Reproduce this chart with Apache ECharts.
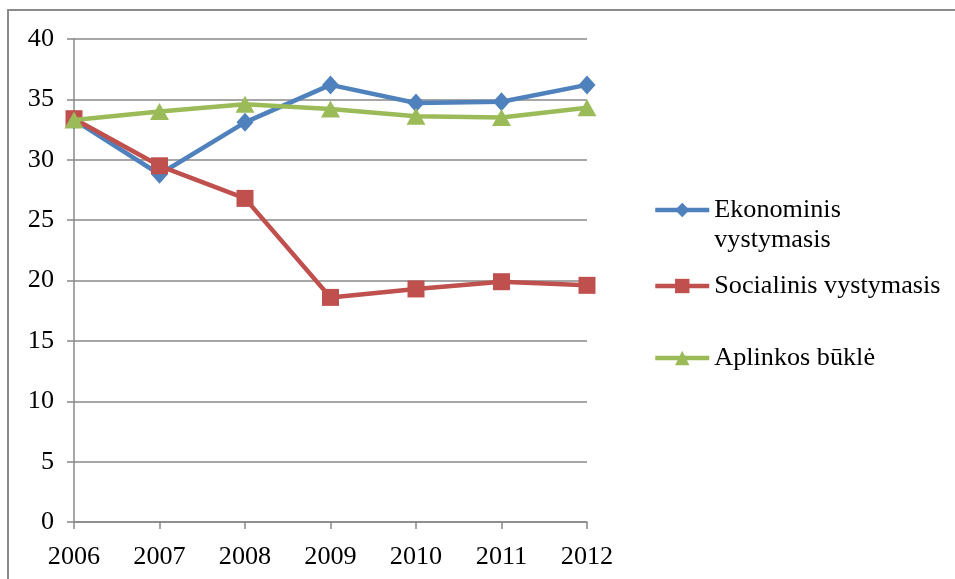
<!DOCTYPE html>
<html>
<head>
<meta charset="utf-8">
<script src="https://cdn.jsdelivr.net/npm/echarts@6/dist/echarts.min.js"></script>
<style>
html,body{margin:0;padding:0;background:#fff;}
#chart{width:955px;height:579px;}
</style>
</head>
<body>
<div id="chart"></div>
<script>
var years = ['2006', '2007', '2008', '2009', '2010', '2011', '2012'];
var ekonominis = [33.3, 28.8, 33.1, 36.2, 34.7, 34.8, 36.2];
var socialinis = [33.4, 29.5, 26.8, 18.6, 19.3, 19.9, 19.6];
var aplinkos = [33.3, 34.0, 34.6, 34.2, 33.6, 33.5, 34.3];
var names = ['Ekonominis vystymasis', 'Socialinis vystymasis', 'Aplinkos būklė'];

var FONT = '"Liberation Serif", "Times New Roman", serif';
var FS = 26.2;
var GRID_COLOR = '#888888';
var chart = echarts.init(document.getElementById('chart'), null, {renderer: 'canvas'});

function legendFor(name, top) {
  return {
    data: [name],
    orient: 'vertical',
    left: 653,
    top: top,
    padding: 0,
    itemWidth: 54,
    itemHeight: 18,
    itemGap: 0,
    selectedMode: false,
    lineStyle: {width: 4.5},
    formatter: function (n) { return n === names[0] ? ' \nEkonominis\nvystymasis' : n; },
    textStyle: {
      fontFamily: FONT,
      fontSize: FS,
      color: '#000',
      lineHeight: 30
    }
  };
}

var option = {
  animation: false,
  backgroundColor: '#fff',
  graphic: [{
    type: 'rect',
    shape: {x: 8, y: 10, width: 1200, height: 1000},
    style: {fill: 'none', stroke: '#8a8a8a', lineWidth: 2},
    silent: true,
    z: -1
  }],
  grid: {left: 74, right: 368, top: 39, bottom: 57},
  legend: [
    legendFor(names[0], 210 - 45),
    legendFor(names[1], 286 - 15),
    legendFor(names[2], 358 - 15)
  ],
  xAxis: {
    type: 'category',
    data: years,
    boundaryGap: false,
    axisLine: {lineStyle: {color: GRID_COLOR, width: 1.5}},
    axisTick: {show: true, length: 7, lineStyle: {color: GRID_COLOR, width: 1.5}},
    axisLabel: {fontFamily: FONT, fontSize: FS, color: '#000', margin: 22},
    splitLine: {show: false}
  },
  yAxis: {
    type: 'value',
    min: 0,
    max: 40,
    interval: 5,
    axisLine: {show: true, lineStyle: {color: GRID_COLOR, width: 1.5}},
    axisTick: {show: true, length: 7, lineStyle: {color: GRID_COLOR, width: 1.5}},
    axisLabel: {fontFamily: FONT, fontSize: FS, color: '#000', margin: 20},
    splitLine: {show: true, lineStyle: {color: GRID_COLOR, width: 1.5}}
  },
  series: [
    {
      name: names[0],
      type: 'line',
      data: ekonominis,
      symbol: 'diamond',
      symbolSize: [17, 19],
      showAllSymbol: true,
      itemStyle: {color: '#4F81BD'},
      lineStyle: {color: '#4F81BD', width: 4.5},
      z: 2
    },
    {
      name: names[1],
      type: 'line',
      data: socialinis,
      symbol: 'rect',
      symbolSize: 17,
      showAllSymbol: true,
      itemStyle: {color: '#C0504D'},
      lineStyle: {color: '#C0504D', width: 4.5},
      z: 3
    },
    {
      name: names[2],
      type: 'line',
      data: aplinkos,
      symbol: 'triangle',
      symbolSize: [19, 17],
      showAllSymbol: true,
      itemStyle: {color: '#9BBB59'},
      lineStyle: {color: '#9BBB59', width: 4.5},
      z: 4
    }
  ]
};
chart.setOption(option);
</script>
</body>
</html>
